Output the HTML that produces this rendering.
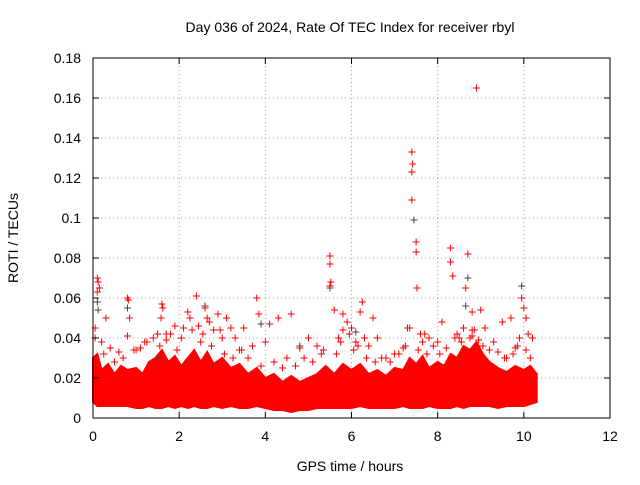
<!DOCTYPE html>
<html><head><meta charset="utf-8"><style>
body{margin:0;background:#fff;}
svg{font-family:"Liberation Sans",sans-serif;}
</style></head><body>
<svg id="chart" width="640" height="480">
<text x="350" y="32" font-size="14" text-anchor="middle">Day 036 of 2024, Rate Of TEC Index for receiver rbyl</text>
<text x="350" y="471" font-size="14" text-anchor="middle">GPS time / hours</text>
<text x="18" y="238" font-size="14" text-anchor="middle" transform="rotate(-90 18 238)">ROTI / TECUs</text>
<g id="grid"></g><g id="band"></g><g id="pts"></g><g id="axes"></g>
</svg>
<script>
const xTicks=[0,2,4,6,8,10,12];
const yTicks=[0,0.02,0.04,0.06,0.08,0.1,0.12,0.14,0.16,0.18];
const yTickLabels=["0","0.02","0.04","0.06","0.08","0.1","0.12","0.14","0.16","0.18"];
const bandTimes=[0,0.1,0.2,0.35,0.5,0.65,0.8,1.0,1.15,1.3,1.45,1.6,1.75,1.9,2.05,2.2,2.35,2.5,2.65,2.8,3.0,3.2,3.4,3.6,3.8,4.0,4.2,4.4,4.6,4.8,5.0,5.2,5.4,5.6,5.8,6.0,6.2,6.4,6.6,6.8,7.0,7.2,7.35,7.5,7.65,7.8,8.0,8.15,8.3,8.45,8.6,8.75,8.9,9.05,9.2,9.4,9.6,9.8,10.0,10.15,10.3];
const bandHigh=[0.03,0.032,0.024,0.027,0.022,0.026,0.024,0.025,0.022,0.028,0.03,0.034,0.028,0.031,0.026,0.03,0.034,0.028,0.033,0.027,0.03,0.025,0.027,0.022,0.025,0.02,0.022,0.018,0.021,0.018,0.02,0.022,0.026,0.022,0.027,0.024,0.027,0.022,0.024,0.021,0.025,0.024,0.03,0.027,0.031,0.025,0.028,0.026,0.032,0.03,0.036,0.034,0.038,0.032,0.028,0.025,0.023,0.026,0.024,0.026,0.022];
const bandLow=[0.008,0.006,0.006,0.006,0.006,0.006,0.006,0.005,0.005,0.006,0.005,0.005,0.006,0.005,0.006,0.005,0.006,0.005,0.005,0.006,0.005,0.006,0.005,0.005,0.006,0.005,0.004,0.004,0.003,0.004,0.004,0.005,0.005,0.005,0.005,0.005,0.006,0.005,0.005,0.005,0.005,0.006,0.005,0.005,0.005,0.006,0.005,0.005,0.005,0.006,0.005,0.006,0.006,0.006,0.006,0.005,0.006,0.006,0.006,0.007,0.008];
const redT=[0.05,0.1,0.12,0.1,0.15,0.05,0.3,0.8,0.82,0.85,0.8,1.2,1.6,1.62,1.58,1.9,2.2,2.25,2.4,2.6,2.65,2.7,2.9,3.1,3.3,3.5,3.8,3.85,4.1,4.3,4.6,4.8,5.0,5.2,5.5,5.5,5.52,5.5,5.6,5.8,5.9,6.0,6.2,6.25,6.5,6.6,7.4,7.42,7.4,7.4,7.5,7.5,7.52,7.3,7.6,7.8,8.3,8.3,8.35,8.1,8.7,8.65,8.9,8.8,9.0,8.6,9.5,9.7,9.95,10.0,10.05,10.1,9.8,10.2,0.4,0.6,1.0,1.4,1.8,2.1,2.45,3.0,3.4,3.7,4.0,4.5,5.3,5.7,6.1,6.4,6.8,7.0,7.2,7.7,8.0,8.5,8.8,9.1,9.3,9.9,10.2,0.2,1.1,1.7,2.8,3.2,5.8,6.3,7.35,8.75,9.6,0.25,0.5,0.7,0.95,1.25,1.5,1.55,1.7,1.95,2.05,2.3,2.5,2.55,2.75,2.95,3.05,3.25,3.45,3.6,3.9,4.2,4.4,4.7,4.9,5.1,5.35,5.65,5.75,5.95,6.05,6.15,6.35,6.55,6.7,6.9,7.1,7.25,7.55,7.65,7.75,7.9,8.05,8.2,8.4,8.45,8.55,8.8,8.85,8.95,9.05,9.2,9.4,9.55,9.75,9.85,10.05,10.15];
const redV=[0.045,0.07,0.068,0.063,0.065,0.04,0.05,0.06,0.059,0.05,0.041,0.038,0.057,0.055,0.05,0.046,0.053,0.05,0.061,0.055,0.05,0.048,0.052,0.05,0.04,0.045,0.06,0.052,0.047,0.05,0.052,0.035,0.04,0.036,0.081,0.077,0.068,0.066,0.054,0.052,0.048,0.045,0.053,0.058,0.05,0.04,0.133,0.127,0.123,0.109,0.088,0.083,0.065,0.045,0.042,0.04,0.085,0.078,0.071,0.048,0.082,0.065,0.165,0.053,0.054,0.045,0.048,0.05,0.06,0.055,0.05,0.042,0.035,0.04,0.035,0.033,0.034,0.04,0.042,0.045,0.046,0.04,0.034,0.036,0.038,0.03,0.032,0.04,0.038,0.036,0.03,0.032,0.035,0.042,0.038,0.04,0.044,0.045,0.038,0.04,0.04,0.038,0.035,0.042,0.044,0.045,0.044,0.04,0.045,0.04,0.03,0.032,0.028,0.03,0.034,0.038,0.042,0.036,0.039,0.034,0.04,0.044,0.038,0.042,0.036,0.044,0.032,0.03,0.034,0.03,0.026,0.028,0.025,0.026,0.03,0.028,0.034,0.032,0.038,0.042,0.034,0.036,0.03,0.028,0.03,0.028,0.032,0.036,0.034,0.038,0.032,0.036,0.032,0.035,0.04,0.042,0.038,0.041,0.044,0.039,0.036,0.034,0.033,0.03,0.032,0.036,0.034,0.03];
const grayT=[0.1,0.12,0.8,2.6,3.9,4.8,5.5,7.45,8.7,8.65,9.95,6.1,1.5];
const grayV=[0.058,0.054,0.055,0.056,0.047,0.036,0.065,0.099,0.07,0.056,0.066,0.043,0.03];
const X0=93,X1=610,Y0=418,Y1=58;
const sx=t=>X0+(t/12)*(X1-X0);
const sy=v=>Y0-(v/0.18)*(Y0-Y1);
const NS="http://www.w3.org/2000/svg";
function mk(tag,attrs,parent){const e=document.createElementNS(NS,tag);for(const k in attrs)e.setAttribute(k,attrs[k]);parent.appendChild(e);return e;}
const grid=document.getElementById('grid'),axes=document.getElementById('axes'),band=document.getElementById('band'),pts=document.getElementById('pts');
xTicks.forEach((t,i)=>{
  if(i>0&&i<xTicks.length-1){const g=mk('line',{x1:sx(t),x2:sx(t),y1:Y1,y2:Y0,stroke:'#a0a0a0','stroke-dasharray':'1,3'},grid);
  }
  mk('line',{x1:sx(t),x2:sx(t),y1:Y0,y2:Y0-6,stroke:'#000'},axes);
  mk('line',{x1:sx(t),x2:sx(t),y1:Y1,y2:Y1+6,stroke:'#000'},axes);
  const l=mk('text',{x:sx(t),y:Y0+23,'font-size':14,'text-anchor':'middle'},axes);l.textContent=t;
  
});
yTicks.forEach((v,i)=>{
  if(i>0&&i<yTicks.length-1){const g=mk('line',{x1:X0,x2:X1,y1:sy(v),y2:sy(v),stroke:'#a0a0a0','stroke-dasharray':'1,3'},grid);
  }
  mk('line',{x1:X0,x2:X0+6,y1:sy(v),y2:sy(v),stroke:'#000'},axes);
  mk('line',{x1:X1,x2:X1-6,y1:sy(v),y2:sy(v),stroke:'#000'},axes);
  const l=mk('text',{x:X0-12,y:sy(v)+5,'font-size':14,'text-anchor':'end'},axes);l.textContent=yTickLabels[i];
  
});
const border=mk('rect',{x:X0,y:Y1,width:X1-X0,height:Y0-Y1,fill:'none',stroke:'#000'},axes);

let d='';bandTimes.forEach((t,i)=>{d+=(i?'L':'M')+sx(t)+','+sy(bandHigh[i]);});
for(let i=bandTimes.length-1;i>=0;i--)d+='L'+sx(bandTimes[i])+','+sy(bandLow[i]);
const bp=mk('path',{d:d+'Z',fill:'#f00',stroke:'#f00','stroke-width':2,'stroke-linejoin':'miter'},band);

function plus(t,v,c,name){const x=sx(t),y=sy(v);
  const p=mk('path',{d:`M${x-3.5},${y}H${x+3.5}M${x},${y-3.5}V${y+3.5}`,stroke:c,'stroke-width':1},pts);
  }
grayT.forEach((t,i)=>plus(t,grayV[i],'#444','gray-point'));
redT.forEach((t,i)=>plus(t,redV[i],'#f00','red-point'));
</script>
</body></html>
